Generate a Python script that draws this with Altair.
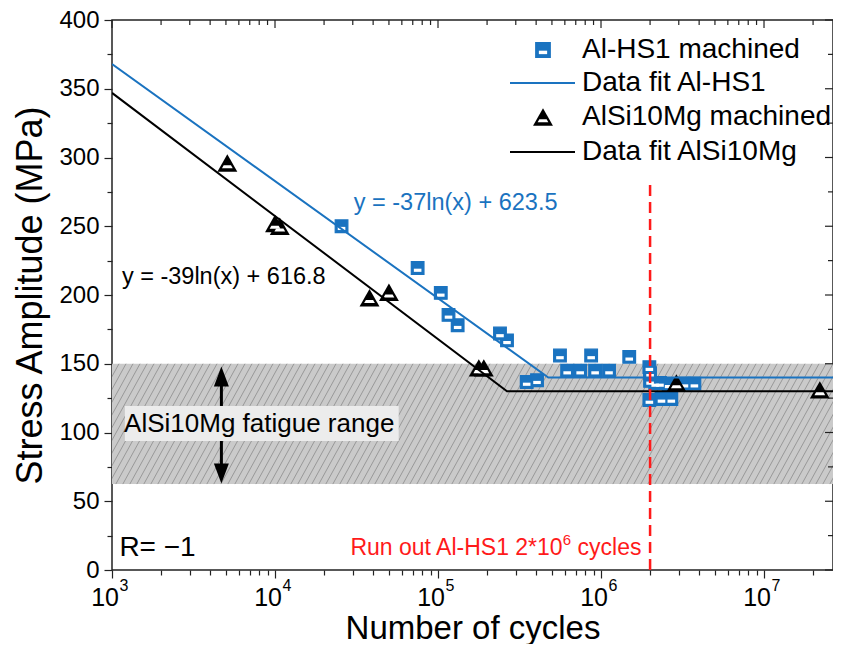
import math
import altair as alt
import pandas as pd

# ---------------- data ----------------
hs1_cycles = [2.56e4, 7.5e4, 1.04e5, 1.16e5, 1.32e5, 2.4e5, 2.65e5, 3.5e5, 4.05e5,
              5.6e5, 8.7e5, 1.49e6, 6.2e5, 7.45e5, 9.2e5, 1.12e6,
              1.98e6, 2.0e6, 2.0e6, 2.15e6, 2.3e6, 2.6e6, 3.25e6, 3.74e6,
              1.98e6, 2.35e6, 2.7e6]
hs1_stress = [250, 219.6, 201.5, 185.5, 178, 172, 167, 136.7, 138,
              156, 156, 155, 145, 145, 145, 145,
              147.5, 143, 137.5, 136, 136, 135, 135.5, 135.5,
              123.6, 124.4, 124.4]

alsi_cycles = [5.1e3, 1.0e4, 1.07e4, 3.8e4, 5.0e4, 1.78e5, 1.91e5, 2.9e6, 2.2e7]
alsi_stress = [296, 252, 250, 198, 202, 147, 147, 136, 131]

fit_hs1_x = [1e3, 4.75e5, 3e7]
fit_hs1_y = [368, 140, 140]
fit_alsi_x = [1e3, 2.65e5, 3e7]
fit_alsi_y = [347, 130, 130]

band_range = [62.5, 150]          # AlSi10Mg fatigue range (MPa)
runout_cycles = 2e6
runout_top = 283

x_major = [1e3, 1e4, 1e5, 1e6, 1e7]
x_major_exp = ["3", "4", "5", "6", "7"]
XMIN, XMAX = 1e3, 2.65e7
x_minor = [m * 10 ** e for e in range(3, 8) for m in range(2, 10) if m * 10 ** e <= XMAX]
y_major = list(range(0, 401, 50))
y_minor = list(range(25, 400, 50))

legend_labels = ["Al-HS1 machined", "Data fit Al-HS1", "AlSi10Mg machined", "Data fit AlSi10Mg"]

# ---------------- styling ----------------
W, H = 721, 550
BLUE = "#1a73c0"
FONT = "Liberation Sans"
TICK = "#222"
xs = alt.Scale(type="log", domain=[XMIN, XMAX], nice=False)
ys = alt.Scale(domain=[0, 400], nice=False)

is_major_x = "indexof([1000,10000,100000,1000000,10000000], datum.value) >= 0"
x_tick_size = {"condition": {"test": is_major_x, "value": 8}, "value": 5}
y_tick_size = {"condition": {"test": "datum.value % 50 == 0", "value": 8}, "value": 5}

XAX = alt.Axis(values=x_major + x_minor, labels=False, tickSize=x_tick_size,
               title="Number of cycles", domain=False, grid=False, titleFontSize=33,
               titlePadding=34, tickColor=TICK, tickWidth=1.2, titleColor="black",
               titleFontWeight="normal", titleFont=FONT)
YAX = alt.Axis(values=y_major + y_minor, labelExpr="datum.value % 50 == 0 ? datum.label : ''",
               tickSize=y_tick_size, title="Stress Amplitude (MPa)", domain=False, grid=False,
               labelFontSize=24, titleFontSize=36, labelPadding=5, titlePadding=9, tickColor=TICK,
               tickWidth=1.2, labelFlush=False, labelOverlap=False, labelColor="black",
               titleColor="black", titleFontWeight="normal", labelFont=FONT, titleFont=FONT)

SQ = "M -1 -1 L 1 -1 L 1 1 L -1 1 Z"
SQ_IN = "M -0.6 0.1 L 0.6 0.1 L 0.6 0.6 L -0.6 0.6 Z"
TRI = "M 0 -1 L 1.15 1 L -1.15 1 Z"
TRI_IN = "M -0.42 0.25 L 0.42 0.25 L 0.62 0.62 L -0.62 0.62 Z"
HEAD_UP = "M 0 0 L 0.75 2 L -0.75 2 Z"
HEAD_DN = "M 0 0 L 0.75 -2 L -0.75 -2 Z"


def X(f):
    return alt.X(f, type="quantitative", scale=xs, axis=XAX)


def Y(f):
    return alt.Y(f, type="quantitative", scale=ys, axis=YAX)


sq_df = pd.DataFrame({"n": hs1_cycles, "s": hs1_stress})
tri_df = pd.DataFrame({"n": alsi_cycles, "s": alsi_stress})
fit1_df = pd.DataFrame({"n": fit_hs1_x, "s": fit_hs1_y})
fit2_df = pd.DataFrame({"n": fit_alsi_x, "s": fit_alsi_y})

# band + hatch
band_df = pd.DataFrame({"x1": [XMIN], "x2": [XMAX], "y1": [band_range[0]], "y2": [band_range[1]]})
LOGR = math.log10(XMAX / XMIN)


def px2x(p):
    return XMIN * 10 ** (p / W * LOGR)


band_px = (band_range[1] - band_range[0]) * H / 400
dx = band_px * 0.55
hatch_rows = []
p = -dx
while p < W + 7:
    hatch_rows.append({"x1": px2x(p), "x2": px2x(p + dx), "y1": band_range[0], "y2": band_range[1]})
    p += 7
hatch_df = pd.DataFrame(hatch_rows)

band = alt.Chart(band_df).mark_rect(color="#cacaca").encode(
    x=X("x1"), x2="x2", y=Y("y1"), y2="y2")
hatch = alt.Chart(hatch_df).mark_rule(color="#8c8c8c", strokeWidth=0.8, clip=True).encode(
    x=X("x1"), x2="x2", y=Y("y1"), y2="y2")

# annotation box + arrows
box_df = pd.DataFrame({"x1": [1.2e3], "x2": [5.74e4], "y1": [93.8], "y2": [119.3]})
box = alt.Chart(box_df).mark_rect(color="#ececec").encode(
    x=X("x1"), x2="x2", y=Y("y1"), y2="y2")
box_text = alt.Chart(pd.DataFrame({"n": [8.0e3], "s": [106.5], "t": ["AlSi10Mg fatigue range"]})).mark_text(
    font=FONT, fontSize=26, color="black", align="center", baseline="middle").encode(
    x=X("n"), y=Y("s"), text="t:N")

arrow_x = 4.69e3
shaft_df = pd.DataFrame({"n": [arrow_x, arrow_x], "a": [119.3, 93.8], "b": [137, 77]})
shafts = alt.Chart(shaft_df).mark_rule(color="black", strokeWidth=3).encode(
    x=X("n"), y=Y("a"), y2="b")
head_up = alt.Chart(pd.DataFrame({"n": [arrow_x], "s": [band_range[1] - 2]})).mark_point(
    shape=HEAD_UP, size=400, filled=True, color="black", opacity=1).encode(x=X("n"), y=Y("s"))
head_dn = alt.Chart(pd.DataFrame({"n": [arrow_x], "s": [band_range[0] + 0.5]})).mark_point(
    shape=HEAD_DN, size=400, filled=True, color="black", opacity=1).encode(x=X("n"), y=Y("s"))

# run-out line + label (with real superscript)
runout = alt.Chart(pd.DataFrame({"n": [runout_cycles], "a": [0], "b": [runout_top]})).mark_rule(
    color="#ff1a1a", strokeWidth=2.5, strokeDash=[11, 6]).encode(x=X("n"), y=Y("a"), y2="b")
ro_df = pd.DataFrame({"n": [1.77e6], "s": [16]})
RO_FS = 23
ro_c = alt.Chart(ro_df).mark_text(font=FONT, fontSize=RO_FS, color="#ff1a1a", align="right",
                                  baseline="middle", text=" cycles").encode(x=X("n"), y=Y("s"))
ro_e = alt.Chart(ro_df).mark_text(font=FONT, fontSize=15, color="#ff1a1a", align="right",
                                  baseline="middle", text="6", dx=-3.056 * RO_FS, dy=-8).encode(x=X("n"), y=Y("s"))
ro_a = alt.Chart(ro_df).mark_text(font=FONT, fontSize=RO_FS, color="#ff1a1a", align="right",
                                  baseline="middle", text="Run out Al-HS1 2*10",
                                  dx=-3.056 * RO_FS - 8.5).encode(x=X("n"), y=Y("s"))

# markers
sq_base = alt.Chart(sq_df).mark_point(shape=SQ, size=160, filled=True, color=BLUE,
                                      stroke=BLUE, strokeWidth=1.2, opacity=1).encode(x=X("n"), y=Y("s"))
sq_in = alt.Chart(sq_df).mark_point(shape=SQ_IN, size=160, filled=True, color="white",
                                    strokeWidth=0, opacity=1).encode(x=X("n"), y=Y("s"))
tri_base = alt.Chart(tri_df).mark_point(shape=TRI, size=300, filled=True, color="black",
                                        strokeWidth=0, opacity=1).encode(x=X("n"), y=Y("s"))
tri_in = alt.Chart(tri_df).mark_point(shape=TRI_IN, size=300, filled=True, color="white",
                                      strokeWidth=0, opacity=1).encode(x=X("n"), y=Y("s"))

# fit lines
fit1 = alt.Chart(fit1_df).mark_line(color=BLUE, strokeWidth=2, clip=True).encode(x=X("n"), y=Y("s"))
fit2 = alt.Chart(fit2_df).mark_line(color="black", strokeWidth=2, clip=True).encode(x=X("n"), y=Y("s"))

eq1 = alt.Chart(pd.DataFrame({"n": [3.04e4], "s": [267], "t": ["y = -37ln(x) + 623.5"]})).mark_text(
    font=FONT, fontSize=23.5, color=BLUE, align="left", baseline="middle").encode(x=X("n"), y=Y("s"), text="t:N")
eq2 = alt.Chart(pd.DataFrame({"n": [1.15e3], "s": [213], "t": ["y = -39ln(x) + 616.8"]})).mark_text(
    font=FONT, fontSize=23.5, color="black", align="left", baseline="middle").encode(x=X("n"), y=Y("s"), text="t:N")
rtext = alt.Chart(pd.DataFrame({"n": [1.11e3], "s": [16], "t": ["R= \u22121"]})).mark_text(
    font=FONT, fontSize=28, color="black", align="left", baseline="middle").encode(x=X("n"), y=Y("s"), text="t:N")

# x tick labels 10^n drawn as base + superscript
xl_df = pd.DataFrame({"n": x_major, "e": x_major_exp})
xl_base = alt.Chart(xl_df).mark_text(font=FONT, fontSize=25, align="right", baseline="middle",
                                     color="black", text="10", dx=7).encode(x=X("n"), y=alt.value(H + 28))
xl_exp = alt.Chart(xl_df).mark_text(font=FONT, fontSize=16, align="left", baseline="middle",
                                    color="black", dx=7.5).encode(x=X("n"), y=alt.value(H + 16), text="e:N")

# mirrored ticks on top and right edges
top_major = alt.Chart(pd.DataFrame({"n": x_major})).mark_rule(color=TICK, strokeWidth=1.2).encode(
    x=X("n"), y=alt.value(0), y2=alt.value(8))
top_minor = alt.Chart(pd.DataFrame({"n": x_minor})).mark_rule(color=TICK, strokeWidth=1.2).encode(
    x=X("n"), y=alt.value(0), y2=alt.value(5))
right_major = alt.Chart(pd.DataFrame({"s": y_major})).mark_rule(color=TICK, strokeWidth=1.2).encode(
    y=Y("s"), x=alt.value(W - 8), x2=alt.value(W))
right_minor = alt.Chart(pd.DataFrame({"s": y_minor})).mark_rule(color=TICK, strokeWidth=1.2).encode(
    y=Y("s"), x=alt.value(W - 5), x2=alt.value(W))

# legend (pixel placement inside the plot)
one = pd.DataFrame({"k": [0]})
leg_rows_y = [30, 63, 97, 132]
LEG_X = 470
leg_layers = []
for lab, yy in zip(legend_labels, leg_rows_y):
    leg_layers.append(alt.Chart(one).mark_text(font=FONT, fontSize=28, align="left", baseline="middle",
                                               color="black", text=lab).encode(
        x=alt.value(LEG_X), y=alt.value(yy)))
leg_layers += [
    alt.Chart(one).mark_point(shape=SQ, size=190, filled=True, color=BLUE, stroke=BLUE, opacity=1).encode(
        x=alt.value(431), y=alt.value(leg_rows_y[0])),
    alt.Chart(one).mark_point(shape=SQ_IN, size=190, filled=True, color="white", strokeWidth=0, opacity=1).encode(
        x=alt.value(431), y=alt.value(leg_rows_y[0])),
    alt.Chart(one).mark_rule(color=BLUE, strokeWidth=2).encode(
        x=alt.value(398), x2=alt.value(463), y=alt.value(leg_rows_y[1])),
    alt.Chart(one).mark_point(shape=TRI, size=300, filled=True, color="black", strokeWidth=0, opacity=1).encode(
        x=alt.value(431), y=alt.value(leg_rows_y[2])),
    alt.Chart(one).mark_point(shape=TRI_IN, size=300, filled=True, color="white", strokeWidth=0, opacity=1).encode(
        x=alt.value(431), y=alt.value(leg_rows_y[2])),
    alt.Chart(one).mark_rule(color="black", strokeWidth=2).encode(
        x=alt.value(398), x2=alt.value(463), y=alt.value(leg_rows_y[3])),
]

chart = alt.layer(band, hatch, box, box_text, shafts, head_up, head_dn,
                  sq_base, sq_in, tri_base, tri_in, fit1, fit2, runout, ro_a, ro_e, ro_c,
                  eq1, eq2, rtext, xl_base, xl_exp,
                  top_major, top_minor, right_major, right_minor,
                  *leg_layers).properties(
    width=W, height=H,
    autosize=alt.AutoSizeParams(type="none"),
    padding={"left": 104, "top": 12, "right": 0, "bottom": 74},
).configure_view(stroke="#222", strokeWidth=1.5)

chart.save("out.html", embed_options={"renderer": "svg", "actions": False})
